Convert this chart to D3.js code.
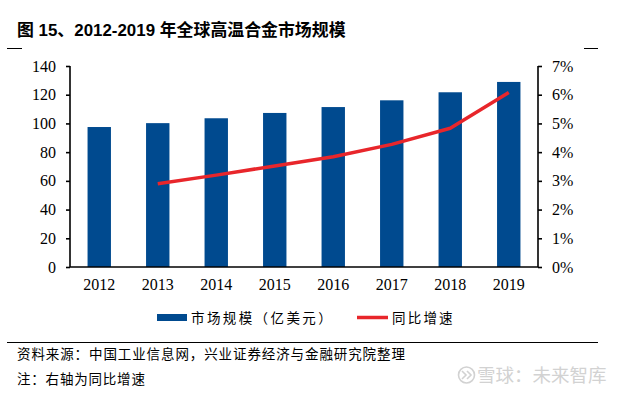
<!DOCTYPE html>
<html><head><meta charset="utf-8">
<script src="https://cdn.jsdelivr.net/npm/d3@7"></script>
<style>
html,body{margin:0;padding:0;background:#fff;}
svg{display:block;}
</style></head>
<body>
<svg id="c" width="629" height="395"></svg>
<script>
const years = ["2012","2013","2014","2015","2016","2017","2018","2019"];
const marketSize = [97.5, 100.2, 103.6, 107.3, 111.4, 116.1, 121.7, 128.9];
const growthYears = ["2013","2014","2015","2016","2017","2018","2019"];
const growthRate = [0.029, 0.032, 0.0352, 0.0384, 0.0427, 0.0483, 0.0608];
const leftTicks = [0,20,40,60,80,100,120,140];
const rightTicks = [0,0.01,0.02,0.03,0.04,0.05,0.06,0.07];
const titleText = "图 15、2012-2019 年全球高温合金市场规模";
const legendLabels = ["市场规模（亿美元）", "同比增速"];
const sourceText = "资料来源：中国工业信息网，兴业证券经济与金融研究院整理";
const noteText = "注：右轴为同比增速";
const watermark = "雪球：未来智库";

const svg = d3.select("#c");
const BLUE = "#004a8f", RED = "#e8262b";
const serif = "'Liberation Serif','Times New Roman',serif";
const cjk = "'Noto Sans CJK SC','Liberation Serif',serif";

const x = d3.scaleBand().domain(years).range([70, 538]).paddingInner(0.6).paddingOuter(0.3);
const yL = d3.scaleLinear().domain([0, 140]).range([267, 66]);
const yR = d3.scaleLinear().domain([0, 0.07]).range([267, 66]);

// title
svg.append("text").attr("x", 17).attr("y", 36)
  .attr("font-family", "'Liberation Sans','Noto Sans CJK SC',sans-serif")
  .attr("font-weight", "bold").attr("font-size", 16.9).attr("fill", "#000")
  .text(titleText);
// corner marks
svg.append("line").attr("x1", 7).attr("x2", 22).attr("y1", 48.5).attr("y2", 48.5).attr("stroke", "#000").attr("stroke-width", 1);
svg.append("line").attr("x1", 584).attr("x2", 598).attr("y1", 48.5).attr("y2", 48.5).attr("stroke", "#000").attr("stroke-width", 1);

// bars
svg.append("g").selectAll("rect").data(years).join("rect")
  .attr("x", d => x(d)).attr("width", x.bandwidth())
  .attr("y", (d,i) => yL(marketSize[i]))
  .attr("height", (d,i) => yL(0) - yL(marketSize[i]))
  .attr("fill", BLUE);

// axes
const axL = d3.axisLeft(yL).tickValues(leftTicks).tickSize(4).tickPadding(10);
const gL = svg.append("g").attr("transform", "translate(70,0)").call(axL);
const axR = d3.axisRight(yR).tickValues(rightTicks).tickSize(4).tickPadding(10).tickFormat(d3.format(".0%"));
const gR = svg.append("g").attr("transform", "translate(538,0)").call(axR);
const axB = d3.axisBottom(x).tickSize(0).tickPadding(12);
const gB = svg.append("g").attr("transform", "translate(0,267)").call(axB);
[gL, gR, gB].forEach(g => {
  g.selectAll(".domain").attr("stroke", "#000").attr("stroke-width", 1.6);
  g.selectAll(".tick line").attr("stroke", "#000").attr("stroke-width", 1.6);
  g.selectAll("text").attr("font-family", serif).attr("font-size", 16).attr("fill", "#000");
});
gL.select(".domain").attr("d", "M0,267V66");
gR.select(".domain").attr("d", "M0,267V66");
gB.select(".domain").attr("d", "M70,0H538");

// line
const line = d3.line().x((d,i) => x(growthYears[i]) + x.bandwidth()/2).y(d => yR(d));
svg.append("path").datum(growthRate).attr("d", line)
  .attr("fill", "none").attr("stroke", RED).attr("stroke-width", 3.5)
  .attr("stroke-linejoin", "round");

// legend
svg.append("rect").attr("x", 157).attr("y", 314).attr("width", 30).attr("height", 7).attr("fill", BLUE);
svg.append("text").attr("x", 191).attr("y", 323).attr("font-family", cjk).attr("font-size", 13.5)
  .attr("letter-spacing", 2.4).text(legendLabels[0]);
svg.append("line").attr("x1", 357).attr("x2", 388).attr("y1", 317.5).attr("y2", 317.5).attr("stroke", RED).attr("stroke-width", 3.5);
svg.append("text").attr("x", 392).attr("y", 323).attr("font-family", cjk).attr("font-size", 13.5)
  .attr("letter-spacing", 2.2).text(legendLabels[1]);

// separator
svg.append("line").attr("x1", 7).attr("x2", 598).attr("y1", 342.5).attr("y2", 342.5).attr("stroke", "#000").attr("stroke-width", 1);
svg.append("text").attr("x", 17).attr("y", 359).attr("font-family", cjk).attr("font-size", 13.5)
  .attr("letter-spacing", 0.9).text(sourceText);
svg.append("text").attr("x", 17).attr("y", 384).attr("font-family", cjk).attr("font-size", 13.5)
  .attr("letter-spacing", 0.8).text(noteText);

// watermark
const wm = svg.append("g");
wm.append("circle").attr("cx", 466.5).attr("cy", 375).attr("r", 8).attr("fill", "none").attr("stroke", "#d2d2d2").attr("stroke-width", 1.6);
wm.append("path").attr("d", "M462,371 L466,375 L462,379 M467,371 L471,375 L467,379").attr("fill", "none").attr("stroke", "#d2d2d2").attr("stroke-width", 1.6);
wm.append("text").attr("x", 477).attr("y", 381.5).attr("font-family", "'Noto Sans CJK SC',sans-serif")
  .attr("font-size", 18.5).attr("fill", "#d2d2d2").text(watermark);
</script>
</body></html>
